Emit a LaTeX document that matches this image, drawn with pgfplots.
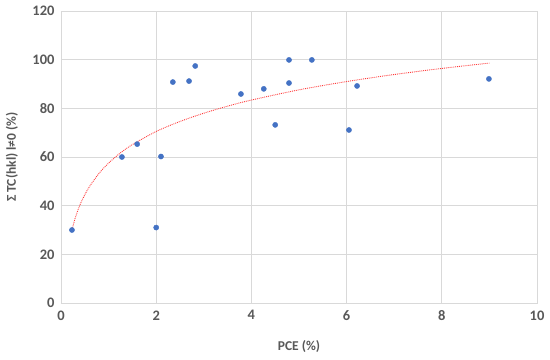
\documentclass[border=0pt]{standalone}
\usepackage{pgfplots}
\pgfplotsset{compat=1.18}
\usepackage{fontspec}
\setmainfont{Carlito}
\definecolor{tickgray}{RGB}{89,89,89}
\definecolor{gridgray}{RGB}{217,217,217}
\definecolor{ptblue}{RGB}{68,114,196}
\definecolor{trendred}{RGB}{255,60,60}
\begin{document}
\begin{tikzpicture}
\begin{axis}[
  scale only axis,
  width=476bp, height=292bp,
  xmin=0, xmax=10, ymin=0, ymax=120,
  xtick={0,2,4,6,8,10}, ytick={0,20,40,60,80,100,120},
  grid=major,
  major grid style={gridgray, line width=0.9bp},
  axis line style={gridgray, line width=0.9bp},
  tick style={draw=none},
  /pgf/number format/assume math mode=true,
  ticklabel style={font=\fontsize{14.5bp}{16bp}\selectfont\bfseries, text=tickgray},
  xticklabel style={yshift=-4bp},
  yticklabel style={xshift=-3bp},
  xlabel={PCE (\%)},
  ylabel={Σ TC(hkl) l≠0 (\%)},
  every axis x label/.style={at={(axis description cs:0.5,0)}, yshift=-44bp, anchor=center,
     font=\fontsize{13.5bp}{15bp}\selectfont\bfseries, text=tickgray},
  every axis y label/.style={at={(axis description cs:0,0.5)}, xshift=-49bp, anchor=center, rotate=90,
     font=\fontsize{13.5bp}{15bp}\selectfont\bfseries, text=tickgray},
]
\addplot[trendred, densely dotted, line width=0.9bp, smooth] coordinates {
(0.23,30) (0.3,35.0) (0.4,40.4) (0.5,44.5) (0.6,47.9) (0.8,53.3) (1,57.5) (1.25,61.7)
(1.5,65.1) (2,70.5) (2.5,74.6) (3,78.0) (3.5,80.9) (4,83.4) (5,87.6) (6,91.0)
(7,93.9) (8,96.4) (9,98.6)};
\addplot[only marks, mark=*, mark size=2.6bp, ptblue] coordinates {
(0.23,30) (1.28,60) (1.6,65.3) (2.0,31) (2.1,60.2) (2.35,90.8) (2.69,91.2)
(2.82,97.4) (3.78,85.9) (4.26,88) (4.5,73.2) (4.79,99.9) (4.79,90.4)
(5.27,99.9) (6.05,71.1) (6.22,89.2) (8.99,92.1)};
\end{axis}
\useasboundingbox (-61bp,-57bp) rectangle (489bp,303bp);
\end{tikzpicture}
\end{document}
